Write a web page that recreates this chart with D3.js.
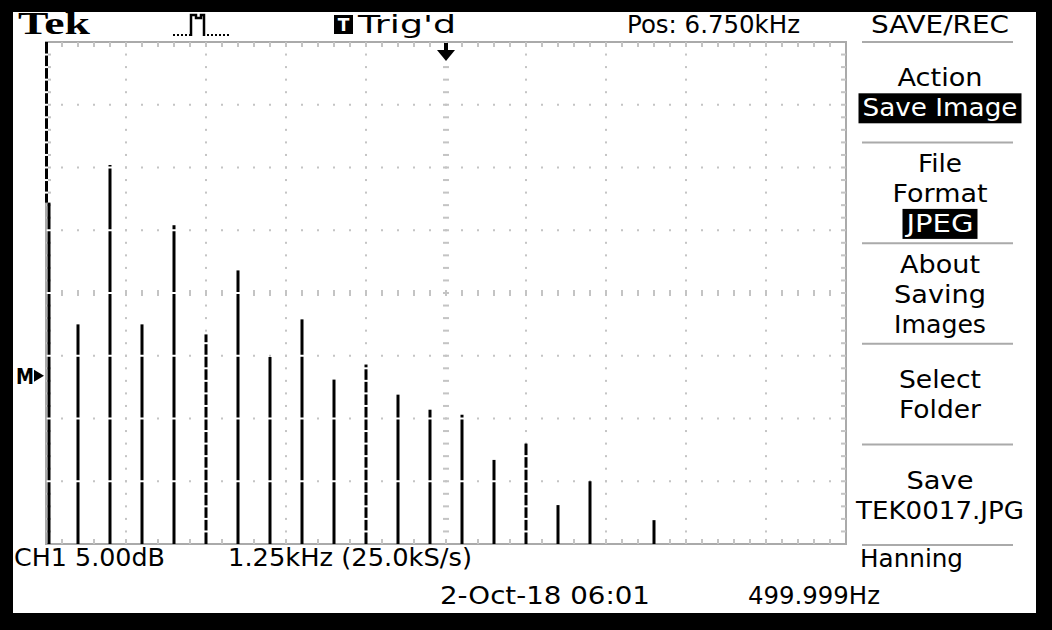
<!DOCTYPE html>
<html>
<head>
<meta charset="utf-8">
<script src="https://cdn.jsdelivr.net/npm/d3@7"></script>
<style>
  html, body { margin: 0; padding: 0; background: #000; }
  svg { display: block; }
  text { font-family: 'DejaVu Sans', sans-serif; fill: #000; }
</style>
</head>
<body>
<div id="scope"></div>
<script>
// FFT lines: frequency (Hz) and level (dB above the M marker)
const harmonicFreqs = [500, 1000, 1500, 2000, 2500, 3000, 3500, 4000, 4500, 5000,
  5500, 6000, 6500, 7000, 7500, 8000, 8500, 9000, 10000];
const harmonicLevels = [13.8, 4.1, 16.8, 4.1, 12.0, 3.3, 8.4, 1.5, 4.5, -0.3,
  0.9, -1.5, -2.7, -3.1, -6.7, -5.4, -10.3, -8.4, -11.5];

const centerFreq = 6750;  // Pos: 6.750kHz
const hzPerDiv = 1250;
const dbPerDiv = 5;
const markerDiv = 2.68;   // M marker height above the bottom, in divisions

const menuTitle = 'SAVE/REC';
const menuGroups = [
  ['Action', 'Save Image'],
  ['File', 'Format', 'JPEG'],
  ['About', 'Saving', 'Images'],
  ['Select', 'Folder'],
  ['Save', 'TEK0017.JPG']
];
const menuHighlight = ['Save Image', 'JPEG'];

const width = 1052;
const height = 630;
const x0 = 46, x1 = 846, y0 = 42, y1 = 544;
const gridColor = '#c4c4c4';

const svg = d3.select('#scope')
  .append('svg')
  .attr('width', width)
  .attr('height', height);

svg.append('rect').attr('width', width).attr('height', height).attr('fill', '#000');
svg.append('rect')
  .attr('x', 13).attr('y', 12)
  .attr('width', 1023).attr('height', 601)
  .attr('fill', '#fff');

const xScale = d3.scaleLinear()
  .domain([centerFreq - 5 * hzPerDiv, centerFreq + 5 * hzPerDiv])
  .range([x0, x1]);

const yScale = d3.scaleLinear()
  .domain([-markerDiv * dbPerDiv, (8 - markerDiv) * dbPerDiv])
  .range([y1, y0]);

const divX = (x1 - x0) / 10;
const divY = (y1 - y0) / 8;
const minorX = divX / 5;
const minorY = divY / 5;

// graticule
const grid = svg.append('g').attr('fill', gridColor);

grid.append('rect')
  .attr('x', x0).attr('y', y0)
  .attr('width', x1 - x0).attr('height', y1 - y0)
  .attr('fill', 'none')
  .attr('stroke', '#aaa')
  .attr('stroke-width', 2);

const minorXs = d3.range(1, 50).map((i) => x0 + i * minorX);
const minorYs = d3.range(1, 40).map((j) => y0 + j * minorY);

// border ticks
minorXs.forEach((x) => {
  grid.append('rect').attr('x', x - 1).attr('y', y0).attr('width', 2).attr('height', 5);
  grid.append('rect').attr('x', x - 1).attr('y', y1 - 5).attr('width', 2).attr('height', 5);
});
minorYs.forEach((y) => {
  grid.append('rect').attr('x', x0).attr('y', y - 1).attr('width', 5).attr('height', 2);
  grid.append('rect').attr('x', x1 - 5).attr('y', y - 1).attr('width', 5).attr('height', 2);
});

// dotted division lines and the centre cross
d3.range(1, 10).forEach((i) => {
  const x = x0 + i * divX;
  minorYs.forEach((y) => {
    if (i === 5) {
      grid.append('rect').attr('x', x - 3).attr('y', y - 1).attr('width', 6).attr('height', 2);
    } else {
      grid.append('rect').attr('x', x - 1).attr('y', y - 1).attr('width', 2).attr('height', 2);
    }
  });
});
d3.range(1, 8).forEach((m) => {
  const y = y0 + m * divY;
  minorXs.forEach((x) => {
    if (m === 4) {
      grid.append('rect').attr('x', x - 1).attr('y', y - 3).attr('width', 2).attr('height', 6);
    } else {
      grid.append('rect').attr('x', x - 1).attr('y', y - 1).attr('width', 2).attr('height', 2);
    }
  });
});

// spectrum lines
const lines = harmonicFreqs.map((f, i) => ({
  x: Math.max(xScale(f), x0 + 3),
  top: yScale(harmonicLevels[i])
}));

const bars = svg.append('g');

// left edge trace above the first line
bars.append('rect')
  .attr('x', x0 - 1).attr('y', y0)
  .attr('width', 3).attr('height', lines[0].top - y0)
  .attr('fill', '#000');

bars.selectAll('rect.line')
  .data(lines)
  .enter()
  .append('rect')
  .attr('class', 'line')
  .attr('x', (d) => d.x - 1.5)
  .attr('y', (d) => d.top)
  .attr('width', 3)
  .attr('height', (d) => y1 - d.top);

// grid drawn over the trace shows as white gaps
const majorYs = d3.range(1, 8).map((m) => y0 + m * divY);
lines.forEach((d) => {
  const onDivLine = Math.abs(((d.x - x0) % divX + divX) % divX) < 1.5;
  const gaps = (onDivLine ? minorYs : majorYs).filter((y) => y > d.top + 1);
  gaps.forEach((y) => {
    bars.append('rect')
      .attr('x', d.x - 2).attr('y', y - 1)
      .attr('width', 4).attr('height', 2)
      .attr('fill', '#fff');
  });
});
minorYs.filter((y) => y < lines[0].top).forEach((y) => {
  bars.append('rect')
    .attr('x', x0 - 1).attr('y', y - 1)
    .attr('width', 3).attr('height', 2)
    .attr('fill', '#fff');
});

// trigger position arrow
const trigX = xScale(centerFreq);
svg.append('rect').attr('x', trigX - 2).attr('y', y0 + 1).attr('width', 4).attr('height', 9);
svg.append('path')
  .attr('d', `M${trigX - 9},${y0 + 8} L${trigX + 9},${y0 + 8} L${trigX},${y0 + 19} Z`);

// M reference marker
const markerY = yScale(0);
svg.append('text')
  .attr('x', 16).attr('y', markerY + 8)
  .attr('font-size', 21)
  .attr('textLength', 18).attr('lengthAdjust', 'spacingAndGlyphs')
  .style('font-weight', 'bold')
  .text('M');
svg.append('path')
  .attr('d', `M34,${markerY - 6} L44,${markerY} L34,${markerY + 6} Z`);

// header
svg.append('text')
  .attr('x', 18).attr('y', 34)
  .attr('font-size', 31)
  .attr('textLength', 72).attr('lengthAdjust', 'spacingAndGlyphs')
  .style('font-family', "'Liberation Serif', 'DejaVu Serif', serif")
  .style('font-weight', 'bold')
  .text('Tek');

svg.append('path')
  .attr('d', 'M173,35 H190')
  .attr('stroke', '#000').attr('stroke-width', 2)
  .attr('stroke-dasharray', '2,2').attr('fill', 'none');
svg.append('path')
  .attr('d', 'M191,36 V15 H196 V18 H201 V15 H204 V36')
  .attr('stroke', '#000').attr('stroke-width', 2.5).attr('fill', 'none');
svg.append('path')
  .attr('d', 'M207,35 H230')
  .attr('stroke', '#000').attr('stroke-width', 2)
  .attr('stroke-dasharray', '2,2').attr('fill', 'none');

svg.append('rect').attr('x', 334).attr('y', 15).attr('width', 19).attr('height', 19);
svg.append('text')
  .attr('x', 343.5).attr('y', 31)
  .attr('text-anchor', 'middle')
  .attr('font-size', 17)
  .style('font-weight', 'bold')
  .style('fill', '#fff')
  .text('T');

function label(txt, x, y, len, anchor) {
  return svg.append('text')
    .attr('x', x).attr('y', y)
    .attr('font-size', 25)
    .attr('text-anchor', anchor || 'start')
    .attr('textLength', len).attr('lengthAdjust', 'spacingAndGlyphs')
    .text(txt);
}

label("Trig'd", 358, 33, 98);
label('Pos: 6.750kHz', 627, 33, 173);

// side menu
const menuX = 940;
const sepYs = d3.range(0, 6).map((k) => y0 + k * 100.6);
label(menuTitle, menuX, 33, 138, 'middle');

sepYs.forEach((y) => {
  svg.append('line')
    .attr('x1', 862).attr('x2', 1013)
    .attr('y1', y).attr('y2', y)
    .attr('stroke', '#aaa').attr('stroke-width', 2);
});

const textWidths = {
  'Action': 85, 'Save Image': 155, 'File': 44, 'Format': 95, 'JPEG': 67,
  'About': 80, 'Saving': 92, 'Images': 92, 'Select': 82, 'Folder': 82,
  'Save': 67, 'TEK0017.JPG': 168
};

menuGroups.forEach((group, g) => {
  const mid = (sepYs[g] + sepYs[g + 1]) / 2;
  group.forEach((txt, k) => {
    const baseY = mid - (group.length - 1) * 15 + 9 + k * 30;
    const w = textWidths[txt];
    const hl = menuHighlight.includes(txt);
    if (hl) {
      svg.append('rect')
        .attr('x', menuX - w / 2 - 4).attr('y', baseY - 23)
        .attr('width', w + 8).attr('height', 30);
    }
    label(txt, menuX, baseY, w, 'middle').style('fill', hl ? '#fff' : '#000');
  });
});

// footer
label('CH1 5.00dB', 14, 566, 151);
label('1.25kHz (25.0kS/s)', 228, 566, 244);
label('Hanning', 860, 567, 103);
label('2-Oct-18 06:01', 440, 604, 210);
label('499.999Hz', 748, 604, 132);
</script>
</body>
</html>
